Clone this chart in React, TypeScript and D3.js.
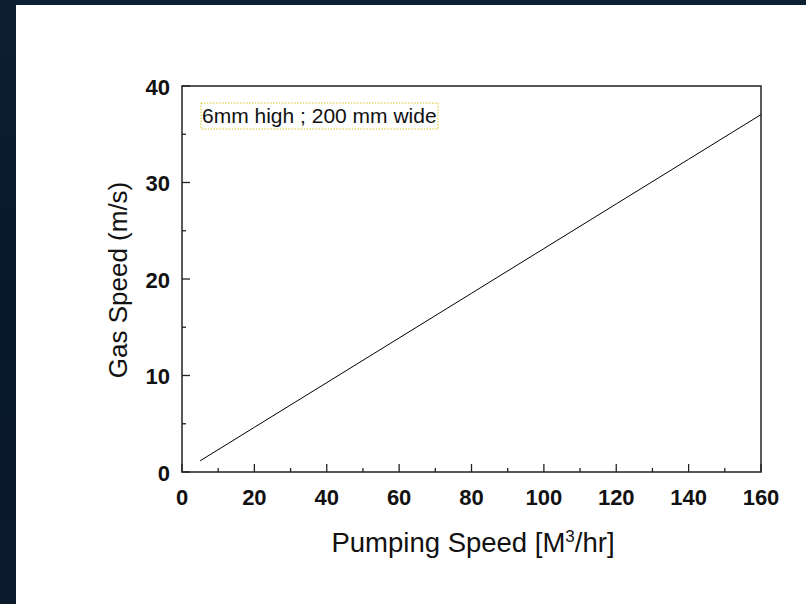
import React from "react";
import * as d3 from "d3";

// Volumetric pumping speed (m³/hr) and resulting gas speed (m/s)
const pumpingSpeed = [5, 20, 40, 60, 80, 100, 120, 140, 160];
const gasSpeed = [1.16, 4.63, 9.26, 13.89, 18.52, 23.15, 27.78, 32.41, 37.04];

const xMajorTicks = [0, 20, 40, 60, 80, 100, 120, 140, 160];
const xMinorTicks = [10, 30, 50, 70, 90, 110, 130, 150];
const yMajorTicks = [0, 10, 20, 30, 40];
const yMinorTicks = [5, 15, 25, 35];

const legendText = "6mm high ; 200 mm wide";

const W = 806;
const H = 604;
const plot = { left: 182, right: 761, top: 86, bottom: 472 };

export default function App() {
  const x = d3.scaleLinear().domain([0, 160]).range([plot.left, plot.right]);
  const y = d3.scaleLinear().domain([0, 40]).range([plot.bottom, plot.top]);
  const line = d3
    .line<number>()
    .x((_, i) => x(pumpingSpeed[i]))
    .y((d) => y(d));

  const font = "'Liberation Sans', Arial, sans-serif";

  return (
    <svg
      width={W}
      height={H}
      style={{ position: "absolute", left: 0, top: 0, display: "block" }}
    >
      <defs>
        <linearGradient id="bg" x1="0" y1="0" x2="0" y2="1">
          <stop offset="0" stopColor="#0c1f33" />
          <stop offset="0.5" stopColor="#08182b" />
          <stop offset="1" stopColor="#0b1b2d" />
        </linearGradient>
      </defs>
      <rect x={0} y={0} width={W} height={H} fill="url(#bg)" />
      <rect x={16} y={5} width={W - 16} height={H - 5} fill="#ffffff" />

      {/* data line */}
      <path d={line(gasSpeed) ?? ""} fill="none" stroke="#000" strokeWidth={1} />

      {/* frame */}
      <rect
        x={plot.left}
        y={plot.top}
        width={plot.right - plot.left}
        height={plot.bottom - plot.top}
        fill="none"
        stroke="#222"
        strokeWidth={1.5}
      />

      {/* x ticks */}
      {xMajorTicks.map((t) => (
        <g key={"xM" + t}>
          <line x1={x(t)} x2={x(t)} y1={plot.bottom} y2={plot.bottom - 8} stroke="#222" strokeWidth={1.3} />
          <text
            x={x(t)}
            y={505}
            textAnchor="middle"
            fontFamily={font}
            fontWeight="bold"
            fontSize={22}
            fill="#111"
          >
            {t}
          </text>
        </g>
      ))}
      {xMinorTicks.map((t) => (
        <line key={"xm" + t} x1={x(t)} x2={x(t)} y1={plot.bottom} y2={plot.bottom - 4} stroke="#222" strokeWidth={1.3} />
      ))}

      {/* y ticks */}
      {yMajorTicks.map((t) => (
        <g key={"yM" + t}>
          <line x1={plot.left} x2={plot.left + 8} y1={y(t)} y2={y(t)} stroke="#222" strokeWidth={1.3} />
          <text
            x={170}
            y={y(t) + 8.5}
            textAnchor="end"
            fontFamily={font}
            fontWeight="bold"
            fontSize={22}
            fill="#111"
          >
            {t}
          </text>
        </g>
      ))}
      {yMinorTicks.map((t) => (
        <line key={"ym" + t} x1={plot.left} x2={plot.left + 4} y1={y(t)} y2={y(t)} stroke="#222" strokeWidth={1.3} />
      ))}

      {/* axis titles */}
      <text
        x={473}
        y={552}
        textAnchor="middle"
        fontFamily={font}
        fontSize={27.5}
        fill="#111"
      >
        Pumping Speed [M
        <tspan dy={-10} fontSize={17}>3</tspan>
        <tspan dy={10}>/hr]</tspan>
      </text>
      <text
        transform={`translate(127, 280) rotate(-90)`}
        textAnchor="middle"
        fontFamily={font}
        fontSize={26}
        fill="#111"
      >
        Gas Speed (m/s)
      </text>

      {/* legend box */}
      <rect
        x={201}
        y={103}
        width={237}
        height={26}
        fill="none"
        stroke="#d4c820"
        strokeWidth={1}
        strokeDasharray="1.5,1.5"
      />
      <text x={202} y={123} fontFamily={font} fontSize={21} fill="#111">
        {legendText}
      </text>
    </svg>
  );
}
